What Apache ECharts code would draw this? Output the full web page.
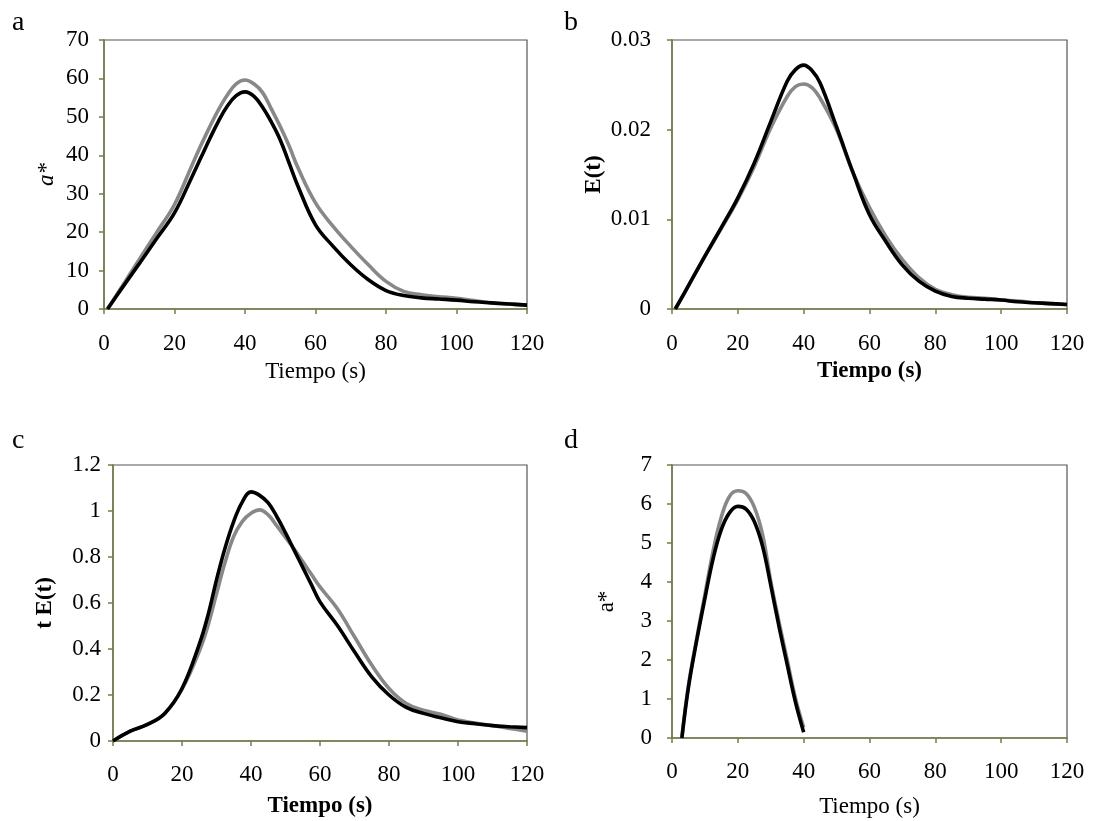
<!DOCTYPE html>
<html>
<head>
<meta charset="utf-8">
<script src="https://cdn.jsdelivr.net/npm/echarts@6/dist/echarts.min.js"></script>
<style>
html,body{margin:0;padding:0;background:#fff;}
#chart{width:1094px;height:821px;}
</style>
</head>
<body>
<div id="chart"></div>
<script>
// Panel a: a* vs tiempo
const tA = [1, 5, 10, 15, 20, 25, 27.5, 30, 32.5, 35, 37.5, 40, 42.5, 45, 47.5, 50, 52.5, 55, 60, 65, 70, 75, 80, 85, 90, 95, 100, 105, 110, 115, 120];
const blackA = [0, 5.3, 11.8, 18.4, 25.0, 34.5, 39.4, 44.3, 48.9, 52.8, 55.5, 56.5, 55.4, 52.5, 48.6, 44, 38, 32, 21.9, 16.3, 11.5, 7.6, 4.8, 3.5, 2.9, 2.6, 2.3, 1.9, 1.6, 1.3, 1.0];
const grayA = [0, 5.7, 12.9, 20.0, 27.2, 37.5, 42.6, 47.4, 51.9, 55.7, 58.6, 59.6, 58.6, 56.3, 52, 47.5, 42.5, 36.8, 27.6, 21.5, 16.3, 11.5, 7.2, 4.6, 3.7, 3.2, 2.8, 2.2, 1.6, 1.3, 1.0];

// Panel b: E(t)
const tB = [1, 5, 10, 15, 20, 25, 30, 35, 37.5, 40, 42.5, 45, 50, 55, 60, 65, 70, 75, 80, 85, 90, 95, 100, 105, 110, 115, 120];
const blackB = [0, 0.0026, 0.0059, 0.0091, 0.0124, 0.0163, 0.0209, 0.0254, 0.0267, 0.0272, 0.0266, 0.0252, 0.0203, 0.0152, 0.0105, 0.0075, 0.0049, 0.0031, 0.002, 0.0014, 0.0012, 0.0011, 0.001, 0.0008, 0.0007, 0.0006, 0.0005];
const grayB = [0, 0.0026, 0.0059, 0.0090, 0.0122, 0.0159, 0.0202, 0.0237, 0.0248, 0.0251, 0.0247, 0.0235, 0.02, 0.0152, 0.0113, 0.0081, 0.0055, 0.0035, 0.0022, 0.0016, 0.0013, 0.0012, 0.001, 0.0009, 0.0007, 0.0006, 0.0005];

// Panel c: t E(t)
const tC = [0, 5, 10, 15, 20, 25, 27.5, 30, 32.5, 35, 37.5, 40, 42.5, 45, 47.5, 50, 52.5, 55, 57.5, 60, 65, 70, 75, 80, 85, 90, 95, 100, 105, 110, 115, 120];
const blackC = [0, 0.043, 0.072, 0.12, 0.228, 0.42, 0.545, 0.70, 0.84, 0.955, 1.04, 1.083, 1.068, 1.035, 0.975, 0.905, 0.83, 0.755, 0.68, 0.605, 0.503, 0.388, 0.279, 0.2, 0.146, 0.12, 0.101, 0.084, 0.075, 0.067, 0.062, 0.058];
const grayC = [0, 0.043, 0.072, 0.12, 0.225, 0.39, 0.50, 0.64, 0.778, 0.89, 0.955, 0.99, 1.005, 0.983, 0.935, 0.885, 0.835, 0.78, 0.725, 0.67, 0.576, 0.453, 0.33, 0.228, 0.163, 0.134, 0.116, 0.091, 0.078, 0.067, 0.055, 0.043];

// Panel d: a*
const tD = [3, 5, 7.5, 10, 12.5, 15, 17.5, 20, 22.5, 25, 27.5, 30, 32.5, 35, 37.5, 40];
const blackD = [0, 1.3, 2.5, 3.58, 4.6, 5.35, 5.78, 5.94, 5.87, 5.55, 4.92, 3.92, 2.86, 1.88, 0.92, 0.15];
const grayD = [0, 1.35, 2.55, 3.68, 4.8, 5.67, 6.2, 6.34, 6.27, 5.92, 5.22, 4.02, 2.98, 2.0, 1.02, 0.27];

const panelLetters = ['a', 'b', 'c', 'd'];
const xName = 'Tiempo (s)';
const yNames = ['a*', 'E(t)', 't E(t)', 'a*'];

const FONT = '"Liberation Serif", "Times New Roman", serif';
const GREEN = '#6f7f47';
const GRAY = '#888888';

const chart = echarts.init(document.getElementById('chart'), null, {renderer: 'canvas'});

const grids = [
  {left: 104, top: 40, width: 423, height: 269},
  {left: 672, top: 40, width: 395, height: 269},
  {left: 113, top: 465, width: 414, height: 276},
  {left: 672, top: 465, width: 395, height: 273}
];
const yCfg = [
  {max: 70, interval: 10, nameGap: 46, bold: false, italic: true, margin: 15},
  {max: 0.03, interval: 0.01, nameGap: 66, bold: true, italic: false, margin: 21},
  {max: 1.2, interval: 0.2, nameGap: 56, bold: true, italic: false, margin: 12},
  {max: 7, interval: 1, nameGap: 54, bold: false, italic: false, margin: 20}
];
const xCfg = [
  {bold: false, gap: 51, margin: 23},
  {bold: true, gap: 51, margin: 23},
  {bold: true, gap: 54, margin: 22},
  {bold: false, gap: 57, margin: 22}
];

const option = {
  animation: false,
  backgroundColor: '#fff',
  grid: grids.map(g => Object.assign({show: true, borderColor: '#555555', borderWidth: 1.2, backgroundColor: 'transparent'}, g)),
  xAxis: xCfg.map((c, i) => ({
    gridIndex: i, type: 'value', min: 0, max: 120, interval: 20,
    name: xName, nameLocation: 'middle', nameGap: c.gap,
    nameTextStyle: {fontFamily: FONT, fontSize: 23, color: '#000', fontWeight: c.bold ? 'bold' : 'normal'},
    axisLine: {show: true, lineStyle: {color: GREEN, width: 1.5}},
    axisTick: {show: true, inside: false, length: 5, lineStyle: {color: GREEN, width: 1.5}},
    axisLabel: {fontFamily: FONT, fontSize: 23, color: '#000', margin: c.margin},
    splitLine: {show: false}
  })),
  yAxis: yCfg.map((c, i) => ({
    gridIndex: i, type: 'value', min: 0, max: c.max, interval: c.interval,
    name: yNames[i], nameLocation: 'middle', nameGap: c.nameGap,
    nameTextStyle: {fontFamily: FONT, fontSize: 23, color: '#000',
      fontWeight: c.bold ? 'bold' : 'normal', fontStyle: c.italic ? 'italic' : 'normal'},
    axisLine: {show: true, lineStyle: {color: GREEN, width: 1.5}},
    axisTick: {show: true, inside: false, length: 5, lineStyle: {color: GREEN, width: 1.5}},
    axisLabel: {fontFamily: FONT, fontSize: 23, color: '#000', margin: c.margin},
    splitLine: {show: false}
  })),
  series: [],
  graphic: panelLetters.map((l, i) => ({
    type: 'text',
    x: [12, 564, 12, 564][i],
    y: [37, 37, 455, 455][i],
    style: {text: l, font: '28px ' + FONT, fill: '#000', verticalAlign: 'bottom'}
  }))
};

const sets = [
  [tA, grayA, blackA],
  [tB, grayB, blackB],
  [tC, grayC, blackC],
  [tD, grayD, blackD]
];
sets.forEach((s, i) => {
  const [t, g, b] = s;
  option.series.push({
    type: 'line', xAxisIndex: i, yAxisIndex: i, showSymbol: false, smooth: 0.4,
    data: t.map((x, k) => [x, g[k]]),
    lineStyle: {color: GRAY, width: 3.6}, itemStyle: {color: GRAY}
  });
  option.series.push({
    type: 'line', xAxisIndex: i, yAxisIndex: i, showSymbol: false, smooth: 0.4,
    data: t.map((x, k) => [x, b[k]]),
    lineStyle: {color: '#000', width: 3.6}, itemStyle: {color: '#000'}
  });
});

chart.setOption(option);
</script>
</body>
</html>
